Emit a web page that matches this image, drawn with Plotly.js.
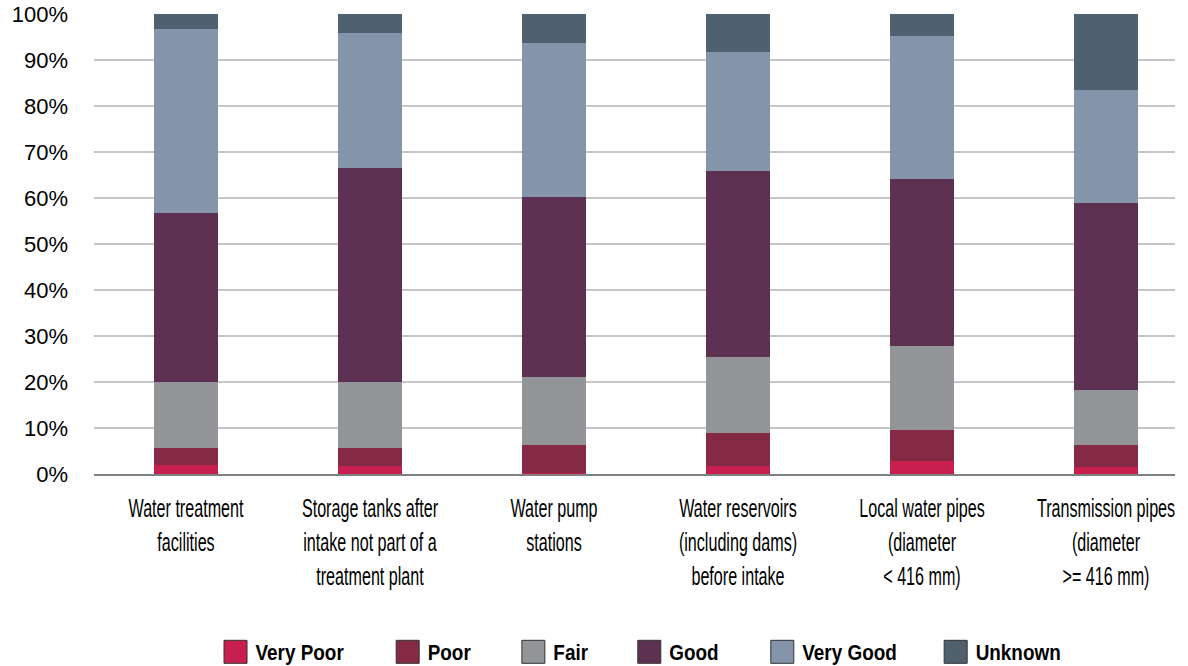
<!DOCTYPE html>
<html>
<head>
<meta charset="utf-8">
<script src="https://cdn.plot.ly/plotly-3.0.1.min.js"></script>
<style>html,body{margin:0;padding:0;background:#fff;}</style>
</head>
<body>
<div id="chart" style="width:1188px;height:666px;"></div>
<script>
const categories = [
  "Water treatment<br>facilities",
  "Storage tanks after<br>intake not part of a<br>treatment plant",
  "Water pump<br>stations",
  "Water reservoirs<br>(including dams)<br>before intake",
  "Local water pipes<br>(diameter<br>< 416 mm)",
  "Transmission pipes<br>(diameter<br>>= 416 mm)"
];
const seriesNames = ["Very Poor", "Poor", "Fair", "Good", "Very Good", "Unknown"];
const veryPoor = [2.0, 1.7, 0.2, 1.7, 2.8, 1.5];
const poor     = [3.6, 3.9, 6.1, 7.2, 6.8, 4.8];
const fair     = [14.4, 14.4, 14.8, 16.5, 18.2, 12.0];
const good     = [36.7, 46.5, 39.1, 40.5, 36.3, 40.6];
const veryGood = [40.0, 29.4, 33.5, 25.8, 31.1, 24.6];
const unknown  = [3.3, 4.1, 6.3, 8.3, 4.8, 16.5];
const tickVals = [0, 10, 20, 30, 40, 50, 60, 70, 80, 90, 100];
const tickText = ["0%", "10%", "20%", "30%", "40%", "50%", "60%", "70%", "80%", "90%", "100%"];

const seriesValues = [veryPoor, poor, fair, good, veryGood, unknown];
const colors = ["#C8204E", "#852A44", "#929497", "#5E3152", "#8494AA", "#4F616E"];
const legendPad = [4, 5, 5, 5, 3, 0];

const traces = seriesNames.map((name, i) => ({
  type: "bar",
  name: name + "\u00a0".repeat(legendPad[i]),
  x: categories,
  y: seriesValues[i],
  marker: {color: colors[i], line: {width: 0}},
  hoverinfo: "none"
}));

const layout = {
  width: 1188,
  height: 666,
  barmode: "stack",
  bargap: 0.652,
  margin: {l: 94, r: 13, t: 14, b: 192, autoexpand: false},
  paper_bgcolor: "#ffffff",
  plot_bgcolor: "#ffffff",
  font: {family: "Liberation Sans, Arial, sans-serif", color: "#000000"},
  xaxis: {
    type: "category",
    range: [-0.5, 5.375],
    showgrid: false,
    showline: true,
    linecolor: "#808080",
    linewidth: 2,
    ticks: "",
    tickangle: 0,
    tickfont: {family: "Liberation Sans, Arial, sans-serif", size: 26, color: "#000"},
    ticklabelstandoff: 10,
    automargin: false,
    fixedrange: true
  },
  yaxis: {
    range: [0, 100],
    tickvals: tickVals,
    ticktext: tickText,
    showgrid: true,
    gridcolor: "#c6c6c6",
    gridwidth: 2,
    zeroline: false,
    showline: false,
    ticks: "",
    tickfont: {family: "Liberation Sans, Arial, sans-serif", size: 22, color: "#000"},
    ticklabelstandoff: 25,
    automargin: false,
    fixedrange: true
  },
  showlegend: true,
  legend: {
    orientation: "h",
    x: 0.5125,
    xanchor: "center",
    y: -0.387,
    yanchor: "middle",
    font: {family: "Liberation Sans, Arial, sans-serif", size: 22, color: "#000", weight: "bold"},
    traceorder: "normal",
    itemclick: false,
    itemdoubleclick: false
  }
};

function squeeze(sel, k) {
  document.querySelectorAll(sel).forEach(t => {
    const x = parseFloat(t.getAttribute("x")) || 0;
    const tr = t.getAttribute("transform") || "";
    t.setAttribute("transform", tr + " translate(" + x + ",0) scale(" + k + ",1) translate(" + (-x) + ",0)");
  });
}

Plotly.newPlot("chart", traces, layout, {displayModeBar: false, staticPlot: true}).then(() => {
  document.querySelectorAll(".legend .legendpoints path").forEach(p => {
    p.setAttribute("d", "M11.5,11.5H-11.5V-11.5H11.5Z");
    p.style.stroke = "#333";
    p.style.strokeWidth = "1px";
  });
  squeeze(".xtick text", 0.62);
  squeeze(".legend text.legendtext", 0.86);
});
</script>
</body>
</html>
